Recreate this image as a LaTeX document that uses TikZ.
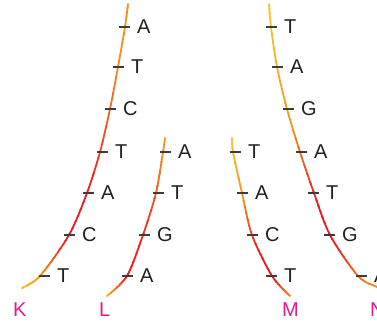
\documentclass[tikz,border=0pt]{standalone}
\usepackage{fontspec}
\setmainfont{Liberation Sans}
\definecolor{cy}{HTML}{FDC326}
\definecolor{co}{HTML}{F7901E}
\definecolor{cr}{HTML}{ED1C24}
\definecolor{tickc}{HTML}{3C3C3C}
\definecolor{txt}{HTML}{231F20}
\definecolor{mag}{HTML}{E5198A}
\tikzset{
  curve/.style={line width=1.8pt, line cap=round},
  tickmark/.style={draw=tickc, line width=1.5pt},
  lbl/.style={anchor=west, inner sep=0pt, text=txt, font=\fontsize{20}{24}\selectfont},
  strandlbl/.style={anchor=west, inner sep=0pt, text=mag, font=\fontsize{20}{24}\selectfont},
}
\newcommand\gradcurve[2]{%
  \foreach \ya/\yb/\ca/\cb in {#2}{%
    \foreach \s in {0,...,7}{%
      \pgfmathsetmacro\yl{\ya+(\yb-\ya)*\s/8}%
      \pgfmathsetmacro\yh{\ya+(\yb-\ya)*(\s+1)/8+0.5}%
      \pgfmathtruncatemacro\pc{100*(\s+0.5)/8}%
      \begin{scope}
        \clip (-10,\yl) rectangle (400,\yh);
        \draw[curve, draw=\cb!\pc!\ca] plot[smooth] coordinates {#1};
      \end{scope}
    }%
  }%
}
\begin{document}
\begin{tikzpicture}[x=1pt,y=-1pt]
\useasboundingbox (0,0) rectangle (377,324);
\clip (0,0) rectangle (377,324);
% strand K
\gradcurve{(128,4) (125,27) (118,67) (110,109) (100,152) (87,193) (69,235) (40,276) (22,288)}
  {-10/60/co/co, 60/190/co/cr, 190/240/cr/cr, 240/275/cr/co, 275/290/co/cy, 290/330/cy/cy}
% strand L
\gradcurve{(165,138) (163,152) (156,193) (143,235) (127,276) (107,296)}
  {-10/150/co/co, 150/245/co/cr, 245/278/cr/cr, 278/298/cr/cy, 298/330/cy/cy}
% strand M
\gradcurve{(232,138) (233,152) (242,193) (252,235) (272,276) (290,296)}
  {-10/140/cy/cy, 140/200/cy/co, 200/250/co/cr, 250/280/cr/cr, 280/297/cr/co, 297/330/co/co}
% strand N
\gradcurve{(269,4) (271,27) (277,67) (287,109) (300,152) (314,193) (330,235) (358,276) (377,287) (390,293)}
  {-10/20/cy/cy, 20/130/cy/co, 130/200/co/cr, 200/245/cr/cr, 245/290/cr/co, 290/330/co/co}
% ticks and bases
\foreach \y/\x/\t [count=\i] in {27/119/A, 67/113/T, 109/105/C, 152/97/T, 193/83/A, 235/64/C, 276/39/T}{
  \draw[tickmark] (\x,\y) -- (\x+11,\y);
  \node[lbl] (k\i) at (\x+18,\y) {\t};
}
\foreach \y/\x/\t [count=\i] in {152/160/A, 193/153/T, 235/139/G, 276/122/A}{
  \draw[tickmark] (\x,\y) -- (\x+11,\y);
  \node[lbl] (l\i) at (\x+18,\y) {\t};
}
\foreach \y/\x/\t [count=\i] in {152/230/T, 193/237/A, 235/247/C, 276/266/T}{
  \draw[tickmark] (\x,\y) -- (\x+11,\y);
  \node[lbl] (m\i) at (\x+18,\y) {\t};
}
\foreach \y/\x/\t [count=\i] in {27/266/T, 67/272/A, 109/283/G, 152/296/A, 193/308/T, 235/324/G, 276/356/A}{
  \draw[tickmark] (\x,\y) -- (\x+11,\y);
  \node[lbl] (n\i) at (\x+18,\y) {\t};
}
% strand names
\node[strandlbl] (K) at (13,310) {K};
\node[strandlbl] (L) at (99,310) {L};
\node[strandlbl] (M) at (282,310) {M};
\node[strandlbl] (N) at (370,310) {N};
\end{tikzpicture}
\end{document}
